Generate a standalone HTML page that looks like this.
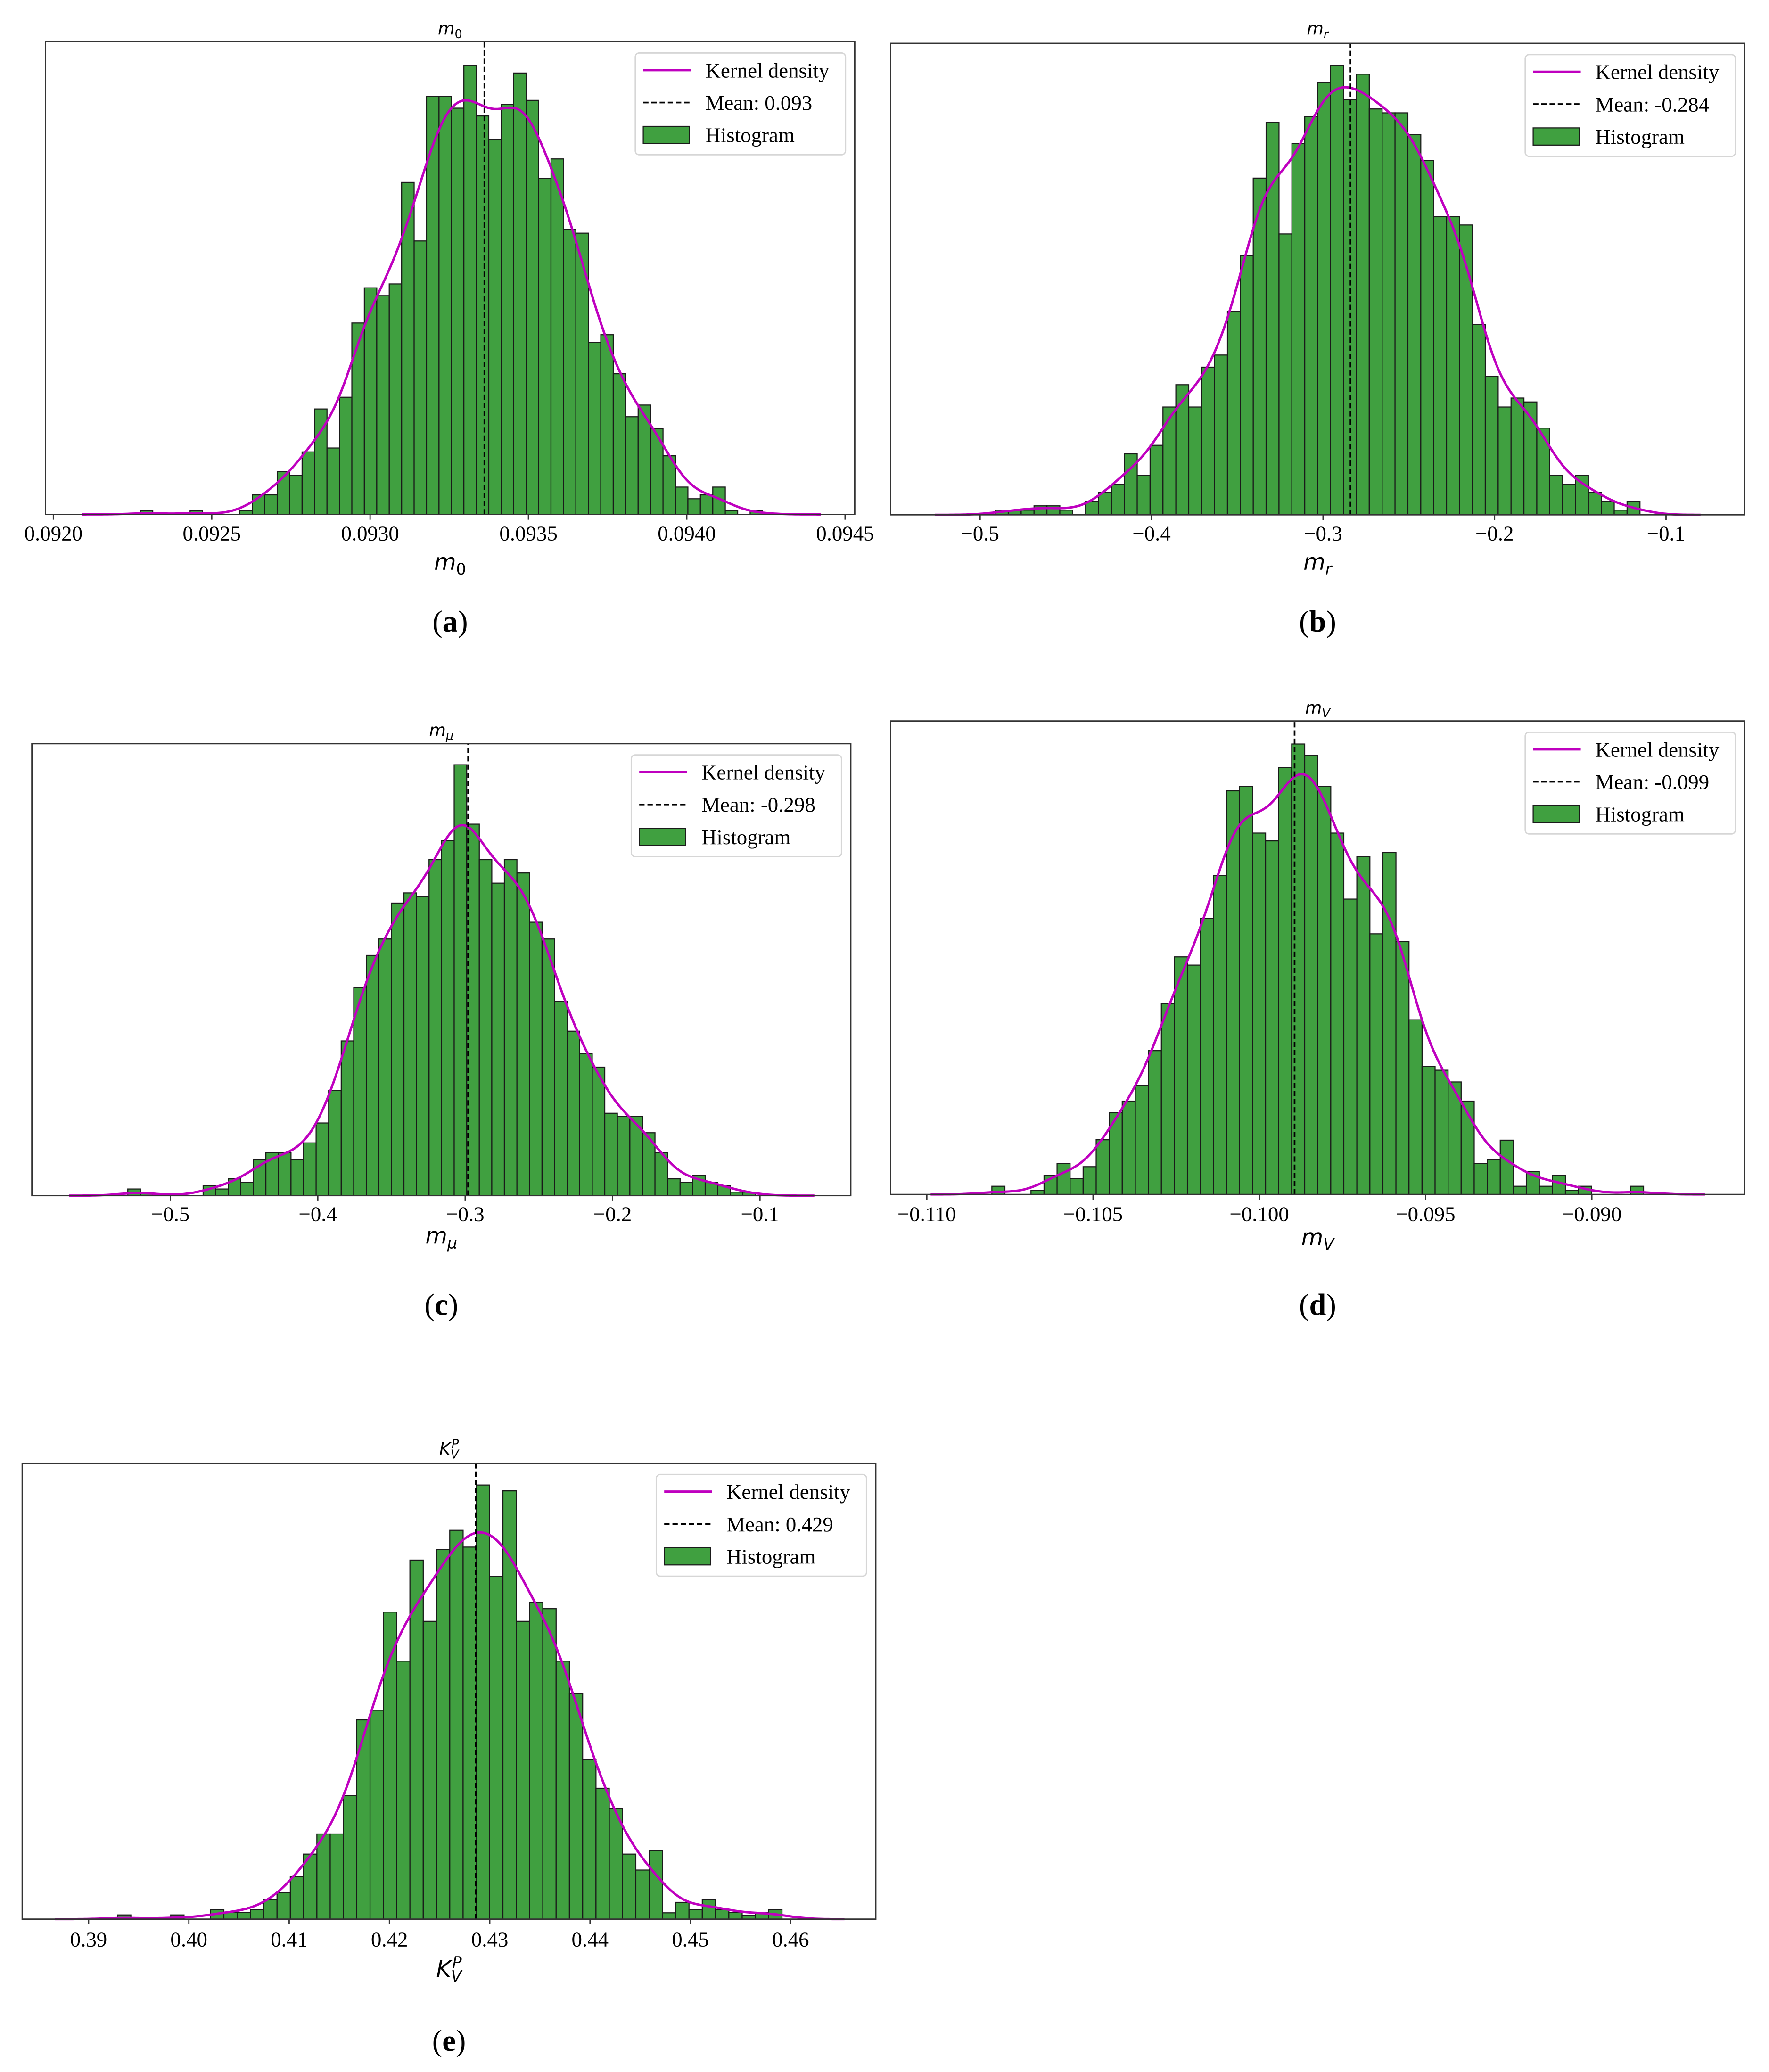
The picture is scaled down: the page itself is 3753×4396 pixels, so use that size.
<!DOCTYPE html>
<html><head><meta charset="utf-8"><style>
html,body{margin:0;padding:0;background:#fff;}
svg{display:block;}
</style></head><body>
<svg id="fig" xmlns="http://www.w3.org/2000/svg" width="3753" height="4396" viewBox="0 0 1338 1568" preserveAspectRatio="none">
<rect x="0" y="0" width="1338" height="1568" fill="#fff"/>
</svg>
<script>
// ---- data ----
const aCounts=[1,0,0,0,1,0,0,0,1,5,5,11,10,16,27,17,30,49,58,56,59,85,70,107,107,104,115,102,96,105,113,106,86,91,73,72,44,46,36,25,28,22,15,7,4,5,7,1,0,1];
const aBinStart=0.0922744, aBinWidth=0.0000393, aMean=0.093361;
const aTicks=[0.0920,0.0925,0.0930,0.0935,0.0940,0.0945];
const aTickLabels=["0.0920","0.0925","0.0930","0.0935","0.0940","0.0945"];

const bCounts=[1.2,1.2,1.2,2.3,2.3,1.2,0,3.4,5.7,7.8,15.6,10.1,17.8,27.6,33.3,27.6,37.8,40.9,52.1,66.4,86.2,100.5,71.9,95.1,101.9,110.6,115.1,106.3,112.8,103.9,102.9,102.9,97.3,90.7,76.3,76.3,74.2,48.7,35.4,27.6,29.9,28.9,22.2,10.1,7.8,10.1,5.7,3.4,1.2,3.4];
const bBinStart=-0.49109, bBinWidth=0.007518, bMean=-0.284;
const bTicks=[-0.5,-0.4,-0.3,-0.2,-0.1];
const bTickLabels=["\u22120.5","\u22120.4","\u22120.3","\u22120.2","\u22120.1"];

const cCounts=[1.7,0.9,0,0,0,0,2.6,1.7,4.3,3.4,9.2,11,11,9.2,13.5,18.6,26.9,39.6,53.2,61.5,65.7,74.9,77.5,76.6,86,90.9,110.3,95.1,86,80,86,82.6,70,65.7,49.7,42.1,36.3,32.9,21.1,20.3,20.3,16.1,11,4.3,3.4,5.2,3.4,2.6,0.9,0.9];
const cBinStart=-0.5289, cBinWidth=0.008516, cMean=-0.298;
const cTicks=[-0.5,-0.4,-0.3,-0.2,-0.1];
const cTickLabels=["\u22120.5","\u22120.4","\u22120.3","\u22120.2","\u22120.1"];

const dCounts=[2.1,0,0,1,4.9,7.9,4.1,7.1,14,20.9,23.9,27.8,36.8,48.8,60.8,58.7,70.7,81.6,103.3,104.4,92.5,90.5,109.3,115.3,112.4,104.4,92.5,75.6,86.5,66.7,87.5,64.7,44.7,32.8,31.8,28.8,23.9,7.9,8.9,13.9,2.1,5.9,2.1,4.9,1,2.1,0,0,0,2.1];
const dBinStart=-0.108043, dBinWidth=0.000392, dMean=-0.09894;
const dTicks=[-0.110,-0.105,-0.100,-0.095,-0.090];
const dTickLabels=["\u22120.110","\u22120.105","\u22120.100","\u22120.095","\u22120.090"];

const eCounts=[1,0,0,0,1,0,0,2.3,1.6,1.6,2.3,4.6,6.3,10.1,15.5,20.3,20.3,29.5,47.5,49.8,73.2,61.5,85.6,71,88.1,92.7,88.7,103.5,81.7,102.1,71,75.5,74,61.5,53.8,38.1,31.2,26.4,15.5,11.7,16.3,1.5,4,2.3,4.6,2.3,1.6,0.9,1.6,2.3];
const eBinStart=0.39289, eBinWidth=0.001325, eMean=0.42862;
const eTicks=[0.39,0.40,0.41,0.42,0.43,0.44,0.45,0.46];
const eTickLabels=["0.39","0.40","0.41","0.42","0.43","0.44","0.45","0.46"];

const NS="http://www.w3.org/2000/svg";
const svg=document.getElementById('fig');
function mk(tag,attrs,parent){const e=document.createElementNS(NS,tag);for(const k in attrs)e.setAttribute(k,attrs[k]);(parent||svg).appendChild(e);return e;}

function mathLabel(parent,x,y,size,base,sub,sup){
  const t=mk('text',{x:x,y:y,'text-anchor':'middle','font-family':'"DejaVu Sans",sans-serif','font-size':size,'font-style':'italic',fill:'#000'},parent);
  const t1=mk('tspan',{},t);t1.textContent=base;
  if(sub){const s=mk('tspan',{'font-size':size*0.7,dy:size*0.22,'font-style':sub==='0'?'normal':'italic'},t);s.textContent=sub;}
  if(sup){const p=mk('tspan',{'font-size':size*0.7,dx:-size*0.42,dy:-size*0.62},t);p.textContent=sup;}
  return t;
}

function drawPanel(id,counts,binStart,binWidth,mean,ticks,tickLabels,meanLabel,box,t0,t0px,t1,t1px,ymax,lbl,caption,capY,titleY,tickY,xlabY){
  const g=mk('g',{});
  
  
  const [L,T,R,B]=box;
  const sx=v=>t0px+(v-t0)*(t1px-t0px)/(t1-t0);
  const sy=c=>B-c/ymax*(B-T);
  // bars
  counts.forEach((c,i)=>{
    if(c<=0)return;
    const x0=sx(binStart+i*binWidth),x1=sx(binStart+(i+1)*binWidth);
    const r=mk('rect',{x:x0,y:sy(c),width:x1-x0,height:B-sy(c),fill:'#40a040',stroke:'#1a1a1a','stroke-width':0.8},g);
    
    
  });
  // kde from histogram
  const s=1.5*binWidth, lo=binStart-4.7*binWidth, hi=binStart+(counts.length+4.7)*binWidth;
  let pts=[];
  for(let k=0;k<=400;k++){
    const x=lo+(hi-lo)*k/400;let y=0;
    counts.forEach((c,i)=>{const cc=binStart+(i+0.5)*binWidth;const z=(x-cc)/s;y+=c*Math.exp(-0.5*z*z)/(s*Math.sqrt(2*Math.PI))*binWidth;});
    pts.push(sx(x).toFixed(2)+','+sy(y).toFixed(2));
  }
  const kde=mk('polyline',{points:pts.join(' '),fill:'none',stroke:'#bf00bf','stroke-width':1.8},g);
  
  
  // mean
  const ml=mk('line',{x1:sx(mean),x2:sx(mean),y1:B,y2:T,stroke:'#000','stroke-width':1.3,'stroke-dasharray':'4,2.2'},g);
  
  
  // frame
  const fr=mk('rect',{x:L,y:T,width:R-L,height:B-T,fill:'none',stroke:'#333','stroke-width':1},g);
  
  
  // ticks
  ticks.forEach((t,i)=>{
    const x=sx(t);
    const tk=mk('line',{x1:x,x2:x,y1:B,y2:B+4,stroke:'#333','stroke-width':1},g);
    
    
    const tl=mk('text',{x:x,y:tickY,'text-anchor':'middle','font-family':'"Liberation Serif",serif','font-size':16,fill:'#000'},g);
    tl.textContent=tickLabels[i];
    
    
  });
  // title & xlabel
  const ti=mathLabel(g,(L+R)/2,titleY,13,lbl[0],lbl[1],lbl[2]);
  
  
  const xl=mathLabel(g,(L+R)/2,xlabY,17,lbl[0],lbl[1],lbl[2]);
  
  
  // legend
  const lw=159, lx=R-7-lw, ly=T+8.5;
  const lg=mk('g',{},g);
  
  
  mk('rect',{x:lx,y:ly,width:lw,height:77,rx:3,fill:'#fff','fill-opacity':0.8,stroke:'#d6d6d6','stroke-width':1},lg);
  const rows=[ly+13,ly+37.5,ly+62];
  const e1=mk('line',{x1:lx+6,x2:lx+42,y1:rows[0],y2:rows[0],stroke:'#bf00bf','stroke-width':1.8},lg);
  
  
  const e2=mk('line',{x1:lx+6,x2:lx+42,y1:rows[1],y2:rows[1],stroke:'#000','stroke-width':1.3,'stroke-dasharray':'4,2.2'},lg);
  
  
  const e3=mk('rect',{x:lx+6,y:rows[2]-6.5,width:35,height:13,fill:'#40a040',stroke:'#1a1a1a','stroke-width':0.8},lg);
  
  
  ['Kernel density','Mean: '+meanLabel,'Histogram'].forEach((s,i)=>{
    const t=mk('text',{x:lx+53,y:rows[i]+5.5,'font-family':'"Liberation Serif",serif','font-size':16,fill:'#000'},lg);
    t.textContent=s;
    
    
  });
  // caption
  const cp=mk('text',{x:(L+R)/2,y:capY,'text-anchor':'middle','font-family':'"Liberation Serif",serif','font-size':23,fill:'#000'},g);
  
  
  const p1=mk('tspan',{},cp);p1.textContent='(';
  const p2=mk('tspan',{'font-weight':'bold'},cp);p2.textContent=caption;
  const p3=mk('tspan',{},cp);p3.textContent=')';
}

drawPanel('a',aCounts,aBinStart,aBinWidth,aMean,aTicks,aTickLabels,'0.093',[34.4,31.6,646.5,389.3],0.0920,40.4,0.0945,639.2,121,['m','0',null],'a',478,26,409,431);
drawPanel('b',bCounts,bBinStart,bBinWidth,bMean,bTicks,bTickLabels,'-0.284',[673.6,32.8,1319.6,389.6],-0.5,741.3,-0.1,1260.1,120.7,['m','r',null],'b',478,26,409,431);
drawPanel('c',cCounts,cBinStart,cBinWidth,cMean,cTicks,cTickLabels,'-0.298',[24.1,562.8,643.5,904.8],-0.5,128.9,-0.1,574.8,115.7,['m','\u03bc',null],'c',995,557,924,941);
drawPanel('d',dCounts,dBinStart,dBinWidth,dMean,dTicks,dTickLabels,'-0.099',[673.6,545.6,1319.6,903.9],-0.110,701.0,-0.090,1204.0,121.2,['m','V',null],'d',995,540,924,942);
drawPanel('e',eCounts,eBinStart,eBinWidth,eMean,eTicks,eTickLabels,'0.429',[16.8,1107.3,662.4,1452.3],0.39,67.0,0.46,598.0,108.7,['K','V','P'],'e',1552,1101,1473,1496);
</script>
</body></html>
